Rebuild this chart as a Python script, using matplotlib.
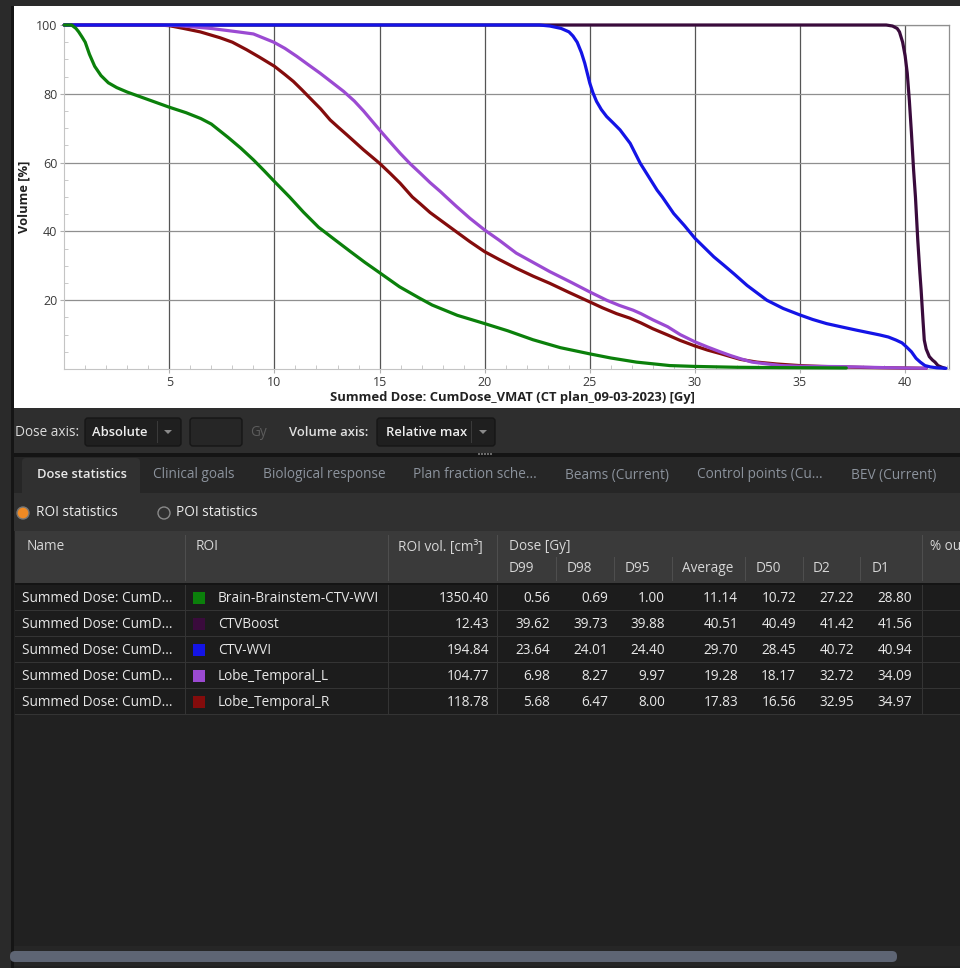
import matplotlib.pyplot as plt
from matplotlib.patches import Rectangle, FancyBboxPatch, Circle, Polygon

plt.rcParams['font.family'] = ['Open Sans', 'DejaVu Sans']

# cumulative DVH curves: dose [Gy] vs volume [%]
brain_dose = [0, 0.35, 0.56, 0.69, 0.85, 1.00, 1.2, 1.45, 1.75, 2.1, 2.5, 3.0, 4.0, 5.0, 5.8,
              6.5, 7.0, 7.41, 7.8, 8.4, 9.0, 9.5, 10.0, 10.72, 11.38, 12.1, 12.89, 13.6, 14.3,
              15.0, 15.95, 16.9, 17.5, 18.7, 20.0, 21.1, 22.3, 23.6, 25.0, 26.0, 27.22, 28.33,
              28.8, 30.0, 32.0, 34.0, 37.2]
brain_vol = [100, 100, 99, 98, 96.5, 95, 91.5, 88, 85.3, 83.2, 81.8, 80.5, 78.3, 76.1, 74.5,
             72.8, 71.2, 69.2, 67.3, 64.2, 60.8, 57.7, 54.5, 50, 45.6, 41.2, 37.5, 34.2, 31.0,
             28.0, 23.9, 20.6, 18.6, 15.6, 13.2, 11.1, 8.5, 6.2, 4.4, 3.2, 2, 1.3,
             1.0, 0.75, 0.5, 0.4, 0.3]

boost_dose = [0, 39.1, 39.4, 39.62, 39.73, 39.88, 40.0, 40.1, 40.2, 40.3, 40.4, 40.49, 40.6,
              40.7, 40.76, 40.85, 40.91, 41.0, 41.15, 41.3, 41.42, 41.56, 41.75, 41.9]
boost_vol = [100, 100, 99.7, 99, 98, 95, 91, 86, 78, 68.5, 58, 50, 37.5,
             28, 22.9, 14, 8.4, 5.8, 3.6, 2.6, 2, 1, 0.5, 0.2]

wvi_dose = [0, 22.6, 23.1, 23.64, 24.01, 24.2, 24.40, 24.6, 24.76, 25.0, 25.15, 25.32, 25.55,
            25.8, 26.1, 26.44, 26.92, 27.4, 27.8, 28.2, 28.45, 28.99, 29.5, 30.0, 30.9, 31.37,
            31.87, 32.48, 33.42, 34.2, 35.0, 35.6, 36.26, 37.0, 37.68, 38.79, 39.2, 39.57,
            39.85, 40.05, 40.3, 40.52, 40.72, 40.94, 41.2, 41.5, 41.94]
wvi_vol = [100, 100, 99.7, 99, 98, 96.8, 95, 92.0, 88.9, 83.1, 80.3, 77.8, 75.4,
           73.4, 71.6, 69.5, 65.6, 59.8, 55.9, 52.0, 50, 45.2, 41.7, 38.0, 32.6, 30.2,
           27.6, 24.3, 20.0, 17.6, 15.7, 14.4, 13.2, 12.2, 11.3, 9.9, 9.3, 8.4,
           7.6, 6.5, 5.0, 3.1, 2, 1, 0.6, 0.35, 0.2]

lobe_l_dose = [0, 4.5, 5.5, 6.98, 8.27, 9.0, 9.97, 10.5, 11.06, 11.6, 12.17, 12.7, 13.29, 13.8,
               14.24, 15.0, 15.5, 15.98, 16.45, 16.94, 17.4, 17.89, 18.17, 18.65, 19.3, 20.0,
               20.7, 21.5, 22.3, 23.1, 24.05, 25.0, 25.8, 26.4, 27.06, 27.43, 28.0, 28.7, 29.3,
               30.0, 30.6, 31.2, 31.7, 32.16, 32.72, 33.4, 34.09, 35.0, 36.9, 39.0, 41.0]
lobe_l_vol = [100, 100, 99.8, 99, 98, 97.4, 95, 93.2, 90.9, 88.5, 86.0, 83.5, 80.7, 77.9,
              75.0, 69.5, 66.0, 62.7, 59.7, 56.9, 54.2, 51.6, 50, 47.3, 43.8, 40.4,
              37.4, 33.7, 31.0, 28.3, 25.4, 22.4, 20, 18.5, 17.1, 16.1, 14.3, 12.3, 10.0,
              7.9, 6.4, 5.0, 3.9, 3.0, 2, 1.5, 1, 0.8, 0.7, 0.4, 0.2]

lobe_r_dose = [0, 4.5, 5.0, 5.68, 6.47, 7.41, 8.0, 8.68, 9.3, 10.0, 10.5, 10.9, 11.3, 11.7,
               12.2, 12.65, 13.05, 13.44, 14.24, 15.0, 15.5, 15.98, 16.56, 16.94, 17.4, 17.89,
               18.65, 19.3, 20.0, 20.7, 21.5, 22.3, 23.1, 24.0, 25.0, 25.6, 26.27, 26.9, 27.43,
               28.0, 28.7, 29.3, 30.0, 30.6, 31.2, 31.7, 32.16, 32.95, 33.9, 34.97, 36.0, 38.0,
               41.0]
lobe_r_vol = [100, 100, 99.8, 99, 98, 96.3, 95, 92.8, 90.6, 88.0, 85.6, 83.6, 81.2, 78.7,
              75.6, 72.4, 70.2, 68.1, 63.7, 59.8, 56.9, 54.0, 50, 48.0, 45.5, 43.3,
              39.9, 37.0, 34.1, 31.8, 29.3, 27.0, 24.9, 22.3, 19.5, 17.8, 16.1, 14.8, 13.4,
              11.7, 9.9, 8.3, 6.7, 5.5, 4.5, 3.6, 2.8, 2, 1.45, 1, 0.75, 0.45,
              0.2]

# dose statistics table
row_names = ['Summed Dose: CumD...'] * 5
roi_names = ['Brain-Brainstem-CTV-WVI', 'CTVBoost', 'CTV-WVI', 'Lobe_Temporal_L', 'Lobe_Temporal_R']
roi_colors = ['#0b800b', '#3a0b3c', '#1414e6', '#9b4ad2', '#840c0c']
roi_volumes = [1350.40, 12.43, 194.84, 104.77, 118.78]
d99 = [0.56, 39.62, 23.64, 6.98, 5.68]
d98 = [0.69, 39.73, 24.01, 8.27, 6.47]
d95 = [1.00, 39.88, 24.40, 9.97, 8.00]
d_average = [11.14, 40.51, 29.70, 19.28, 17.83]
d50 = [10.72, 40.49, 28.45, 18.17, 16.56]
d2 = [27.22, 41.42, 40.72, 32.72, 32.95]
d1 = [28.80, 41.56, 40.94, 34.09, 34.97]

tab_labels = ['Dose statistics', 'Clinical goals', 'Biological response', 'Plan fraction sche...',
              'Beams (Current)', 'Control points (Cu...', 'BEV (Current)']
dose_columns = ['D99', 'D98', 'D95', 'Average', 'D50', 'D2', 'D1']

W, H = 960, 968
FS = 9.8
fig = plt.figure(figsize=(W / 100, H / 100), dpi=100)
fig.patch.set_facecolor('#212121')

# pixel-space layer for the window chrome
ui = fig.add_axes([0, 0, 1, 1])
ui.set_xlim(0, W)
ui.set_ylim(H, 0)
ui.axis('off')


def box(x0, y0, x1, y1, fc, ec='none', lw=0, z=1):
    ui.add_patch(Rectangle((x0, y0), x1 - x0, y1 - y0, facecolor=fc, edgecolor=ec, lw=lw, zorder=z))


def rbox(x0, y0, x1, y1, fc, ec='none', lw=0, r=3, z=1):
    ui.add_patch(FancyBboxPatch((x0, y0), x1 - x0, y1 - y0, boxstyle='round,pad=0,rounding_size=%s' % r,
                                facecolor=fc, edgecolor=ec, lw=lw, zorder=z))


def label(x, y, s, color='#dcdcdc', size=FS, weight='normal', ha='left'):
    ui.text(x, y, s, color=color, fontsize=size, fontweight=weight, ha=ha, va='center', zorder=5)


def arrow(x, y):
    ui.add_patch(Polygon([(x - 4, y - 2), (x + 4, y - 2), (x, y + 2)], closed=True,
                         facecolor='#8a8a8a', edgecolor='none', zorder=4))


# outer frame and plot panel
box(0, 0, W, H, '#212121')
box(0, 0, 14, H, '#2a2a2a')
box(11, 0, 14, H, '#151515')
box(0, 0, W, 6, '#2a2a2a')
box(14, 6, W, 408, '#ffffff')

# dose / volume axis controls
box(14, 408, W, 453, '#2e2e2e')
label(15, 433, 'Dose axis:')
rbox(85, 418, 181, 446, '#1f1f1f', ec='#161616', lw=1)
label(92, 432, 'Absolute', color='#eeeeee', size=FS - 0.4, weight='semibold')
box(157, 421, 158, 443, '#3a3a3a', z=2)
arrow(168, 432)
rbox(190, 418, 242, 446, '#262626', ec='#161616', lw=1)
label(250, 433, 'Gy', color='#5c5c5c')
label(289, 433, 'Volume axis:', color='#e0e0e0', size=FS - 0.4, weight='semibold')
rbox(377, 418, 495, 446, '#1f1f1f', ec='#161616', lw=1)
label(386, 432, 'Relative max', color='#eeeeee', size=FS - 0.4, weight='semibold')
box(471, 421, 472, 443, '#3a3a3a', z=2)
arrow(483, 432)
box(14, 453, W, 457, '#141414')
for gx in range(478, 492, 3):
    box(gx, 453, gx + 1.5, 455, '#6a6a6a', z=2)

# tab strip
box(14, 457, W, 493, '#262626')
rbox(22, 458, 140, 497, '#303030', r=4, z=2)
tab_x = [37, 153, 263, 413, 565, 697, 851]
for i, (tx, name) in enumerate(zip(tab_x, tab_labels)):
    if i == 0:
        label(tx, 475, name, color='#e8e8e8', size=FS - 0.4, weight='semibold')
    else:
        label(tx, 475, name, color='#8c939d')

# ROI / POI switch
box(14, 493, W, 531, '#303030', z=1.5)
ui.add_patch(Circle((23, 513), 6, facecolor='#f08a24', edgecolor='#777777', lw=1, zorder=3))
label(36, 513, 'ROI statistics', color='#ececec')
ui.add_patch(Circle((164, 513), 6, facecolor='none', edgecolor='#8a8a8a', lw=1, zorder=3))
label(176, 513, 'POI statistics', color='#ececec')

# table header
box(15, 531, W, 584, '#3a3a3a')
box(15, 583, W, 585, '#141414', z=2)
for sx in [185, 388, 497, 922]:
    box(sx, 535, sx + 1, 581, '#4e4e4e', z=2)
for sx in [556, 614, 672, 745, 803, 860]:
    box(sx, 557, sx + 1, 581, '#4e4e4e', z=2)
label(27, 547, 'Name', color='#d6d6d6')
label(196, 547, 'ROI', color='#d6d6d6')
label(398, 547, 'ROI vol. [cm³]', color='#d6d6d6')
label(509, 547, 'Dose [Gy]', color='#d6d6d6')
label(930, 547, '% ou', color='#d6d6d6')
for hx, name in zip([509, 567, 625, 682, 756, 813, 872], dose_columns):
    label(hx, 568, name, color='#d6d6d6')

# table rows
row_top = 585
row_h = 26
value_cols = [roi_volumes, d99, d98, d95, d_average, d50, d2, d1]
value_right = [489, 550, 608, 665, 738, 796, 854, 912]
for i in range(len(roi_names)):
    y0 = row_top + i * row_h
    yc = y0 + row_h / 2
    box(15, y0, W, y0 + row_h, '#1c1c1c')
    box(15, y0 + row_h - 1, W, y0 + row_h, '#343434', z=2)
    label(22, yc, row_names[i], color='#e8e8e8')
    box(193, yc - 6, 205, yc + 6, roi_colors[i], z=3)
    label(218, yc, roi_names[i], color='#e8e8e8')
    for col, rx in zip(value_cols, value_right):
        label(rx, yc, '%.2f' % col[i], color='#e8e8e8', ha='right')
for sx in [185, 388, 497, 922]:
    box(sx, row_top, sx + 1, row_top + 5 * row_h, '#343434', z=2)

# horizontal scrollbar
box(14, 946, W, 966, '#262626')
rbox(10, 951, 897, 962, '#5e6574', r=5, z=2)

# DVH chart
ax = fig.add_axes([64.2 / W, 1 - 369 / H, (949.3 - 64.2) / W, (369 - 25) / H])
ax.set_zorder(2)
ax.set_facecolor('white')

curves = [
    (boost_dose, boost_vol, roi_colors[1]),
    (lobe_r_dose, lobe_r_vol, roi_colors[4]),
    (lobe_l_dose, lobe_l_vol, roi_colors[3]),
    (wvi_dose, wvi_vol, roi_colors[2]),
    (brain_dose, brain_vol, roi_colors[0]),
]
for dose, vol, c in curves:
    ax.plot(dose, vol, color=c, lw=2.3, solid_joinstyle='round', solid_capstyle='round',
            clip_on=False, zorder=3)

ax.set_xlim(0, 42.1)
ax.set_ylim(0, 100)
ax.set_xticks([5, 10, 15, 20, 25, 30, 35, 40])
ax.set_yticks([20, 40, 60, 80, 100])
ax.set_xticks(range(1, 43), minor=True)
ax.set_yticks(range(5, 100, 5), minor=True)
ax.xaxis.grid(True, color='#555555', lw=0.9)
ax.yaxis.grid(True, color='#8f8f8f', lw=0.9)
ax.set_axisbelow(True)
ax.tick_params(which='major', direction='out', length=3, color='#b0b0b0', labelsize=9,
               labelcolor='#3a3a3a', pad=2)
ax.tick_params(which='minor', direction='in', length=3, color='#c0c0c0')
for side in ['left', 'bottom']:
    ax.spines[side].set_color('#c4c4c4')
for side in ['top', 'right']:
    ax.spines[side].set_color('#8f8f8f')
    ax.spines[side].set_linewidth(0.9)

ax.set_ylabel('Volume [%]', fontsize=9.3, fontweight='bold', color='#222222')
ax.yaxis.set_label_coords(-34 / 885.1, 0.5)
ax.set_xlabel('Summed Dose: CumDose_VMAT (CT plan_09-03-2023) [Gy]', fontsize=9.4,
              fontweight='bold', color='#222222', va='center')
ax.xaxis.set_label_coords((512 - 64.2) / 885.1, -29 / 344)

fig.savefig('out.png', dpi=100)
